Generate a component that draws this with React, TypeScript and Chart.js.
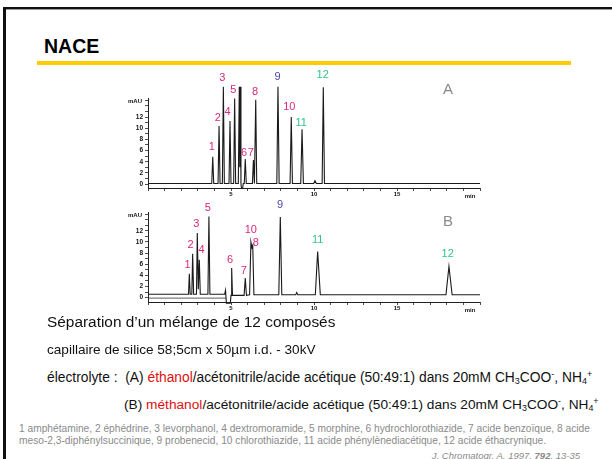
import React, { useEffect, useRef } from "react";
import { Chart, registerables } from "chart.js";

Chart.register(...registerables);

// ---- Data ----
// Electropherogram A (ethanol)
const timeA = [0, 3.84, 3.9, 3.96, 4.22, 4.28, 4.34, 4.48, 4.54, 4.6, 4.88, 4.94, 5.0, 5.16, 5.22, 5.28, 5.44, 5.5, 5.53, 5.56, 5.6, 5.63, 5.7, 5.74, 5.8, 5.86, 5.92, 6.29, 6.35, 6.41, 6.43, 6.49, 6.55, 7.76, 7.83, 7.9, 8.56, 8.63, 8.7, 9.2, 9.28, 9.36, 9.98, 10.06, 10.14, 10.49, 10.56, 10.63, 20];
const signalA = [0.1, 0.1, 4.9, 0.1, 0.1, 10.4, 0.1, 0.1, 17.4, 0.1, 0.1, 11.3, 0.1, 0.1, 15.3, 0.1, 0.1, 17.4, 3, 17.4, 0.1, -0.7, -0.7, 0.1, 0.1, 4.5, 0.1, 0.1, 4.3, 0.1, 0.1, 15.1, 0.1, 0.1, 17.4, 0.1, 0.1, 12.0, 0.1, 0.1, 9.8, 0.1, 0.1, 0.6, 0.1, 0.1, 17.3, 0.1, 0.1];
const peakLabelsA = ["1", "2", "3", "4", "5", "6", "7", "8", "9", "10", "11", "12"];
const peakLabelTimeA = [3.84, 4.2, 4.48, 4.8, 5.14, 5.78, 6.2, 6.45, 7.81, 8.51, 9.23, 10.52];
const peakLabelSignalA = [6.6, 11.8, 18.9, 12.9, 16.8, 5.5, 5.5, 16.5, 19.1, 13.8, 10.9, 19.6];

// Electropherogram B (methanol)
const timeB = [0, 2.44, 2.49, 2.54, 2.64, 2.69, 2.75, 2.92, 2.97, 3.03, 3.09, 3.15, 3.61, 3.67, 3.73, 4.62, 4.67, 4.72, 4.96, 5.0, 5.04, 5.09, 5.79, 5.86, 5.93, 6.12, 6.2, 6.26, 6.31, 6.38, 7.88, 7.97, 8.06, 8.9, 8.96, 9.02, 10.08, 10.22, 10.38, 17.95, 18.13, 18.32, 20];
const signalB = [0.6, 0.6, 4.3, 0.6, 0.6, 7.9, 0.6, 0.6, 11.6, 1.5, 6.8, 0.6, 0.6, 14.6, 0.6, 0.6, 1.3, -1.0, -1.0, 0.4, 5.3, 0.4, 0.4, 3.5, 0.4, 0.5, 10.0, 9.0, 9.4, 0.5, 0.5, 14.5, 0.5, 0.5, 0.9, 0.5, 0.5, 8.3, 0.5, 0.5, 5.6, 0.5, 0.5];
const offsetTimeB = [0, 4.7];
const offsetSignalB = [-0.1, -0.1];
const peakLabelsB = ["1", "2", "3", "4", "5", "6", "7", "10", "8", "9", "11", "12"];
const peakLabelTimeB = [2.39, 2.57, 2.91, 3.23, 3.6, 4.94, 5.77, 6.19, 6.49, 7.95, 10.22, 18.05];
const peakLabelSignalB = [5.8, 9.4, 13.3, 8.5, 16.2, 6.7, 4.8, 12.1, 9.8, 16.6, 10.3, 7.9];

// Axis tick labels
const yTickLabels = [0, 2, 4, 6, 8, 10, 12];
const xTickLabels = [5, 10, 15];

// ---- Styles ----
const MAGENTA = "#d8287c";
const BLUE = "#4848a8";
const GREEN = "#2fc486";
const FONT = '"Liberation Sans", Arial, sans-serif';
const colorOf = (l: string) => (l === "9" ? BLUE : l === "11" || l === "12" ? GREEN : MAGENTA);

type PanelProps = {
  left: number;
  top: number;
  width: number;
  height: number;
  padTop: number;
  xHeight: number;
  yMin: number;
  yMax: number;
  series: { t: number[]; v: number[]; color: string; w: number }[];
  labels: string[];
  lt: number[];
  lv: number[];
};

function Panel(p: PanelProps) {
  const ref = useRef<HTMLCanvasElement | null>(null);
  useEffect(() => {
    if (!ref.current) return;
    const annot = {
      id: "annot",
      afterDatasetsDraw(chart: any) {
        const { ctx, scales, chartArea } = chart;
        const x = scales.x;
        const y = scales.y;
        ctx.save();
        ctx.font = `11px ${FONT}`;
        ctx.textAlign = "center";
        ctx.textBaseline = "middle";
        p.labels.forEach((l, i) => {
          ctx.fillStyle = colorOf(l);
          ctx.fillText(l, x.getPixelForValue(p.lt[i]), y.getPixelForValue(p.lv[i]));
        });
        ctx.fillStyle = "#111";
        ctx.font = `bold 6px ${FONT}`;
        ctx.textAlign = "right";
        ctx.fillText("mAU", chartArea.left - 6, chartArea.top + 3);
        ctx.textAlign = "center";
        ctx.fillText("min", x.getPixelForValue(19.4), chartArea.bottom + 8);
        ctx.restore();
      },
    };
    const chart = new Chart(ref.current, {
      type: "line",
      data: {
        datasets: p.series.map((s) => ({
          data: s.t.map((t, i) => ({ x: t, y: s.v[i] })),
          borderColor: s.color,
          borderWidth: s.w,
          pointRadius: 0,
          tension: 0,
          fill: false,
          clip: false as any,
        })),
      },
      options: {
        responsive: false,
        animation: false,
        devicePixelRatio: 1,
        layout: { padding: { left: 0, right: 20, top: p.padTop, bottom: 0 } },
        plugins: { legend: { display: false }, tooltip: { enabled: false } },
        scales: {
          x: {
            type: "linear",
            min: 0,
            max: 20,
            afterFit: (s: any) => {
              s.height = p.xHeight;
            },
            ticks: {
              stepSize: 1,
              autoSkip: false,
              maxRotation: 0,
              padding: 0,
              color: "#111",
              font: { size: 6, weight: "bold", family: FONT },
              callback: (v: any) => (xTickLabels.includes(Number(v)) ? String(v) : ""),
            },
            grid: { display: true, drawOnChartArea: false, drawTicks: true, tickLength: 3, color: "#222", lineWidth: 0.8 },
            border: { display: true, color: "#222", width: 1 },
          },
          y: {
            type: "linear",
            min: p.yMin,
            max: p.yMax,
            afterFit: (s: any) => {
              s.width = 48;
            },
            ticks: {
              stepSize: 1,
              includeBounds: false,
              autoSkip: false,
              padding: 2,
              color: "#111",
              font: { size: 6.5, weight: "bold", family: FONT },
              callback: (v: any) => (yTickLabels.includes(Number(v)) ? String(v) : ""),
            },
            grid: { display: true, drawOnChartArea: false, drawTicks: true, tickLength: 3, color: "#222", lineWidth: 0.8 },
            border: { display: true, color: "#222", width: 1 },
          },
        },
      },
      plugins: [annot],
    } as any);
    return () => chart.destroy();
  }, []);
  return (
    <canvas
      ref={ref}
      width={p.width}
      height={p.height}
      style={{ position: "absolute", left: p.left, top: p.top, width: p.width, height: p.height, display: "block" }}
    />
  );
}

const txt = (left: number, centerY: number, size: number, extra: React.CSSProperties = {}): React.CSSProperties => ({
  position: "absolute",
  left,
  top: centerY - size * 0.6,
  fontSize: size,
  lineHeight: 1.2,
  whiteSpace: "nowrap",
  fontFamily: FONT,
  color: "#111",
  ...extra,
});

const sub: React.CSSProperties = { fontSize: "0.65em", verticalAlign: "-0.25em", lineHeight: 0 };
const sup: React.CSSProperties = { fontSize: "0.65em", verticalAlign: "0.55em", lineHeight: 0 };

export default function App() {
  return (
    <div
      style={{
        position: "absolute",
        left: 0,
        top: 0,
        width: 612,
        height: 459,
        overflow: "hidden",
        background: "#fff",
        fontFamily: FONT,
      }}
    >
      <div
        style={{
          position: "absolute",
          left: 3,
          top: 7,
          width: 700,
          height: 600,
          borderTop: "2.5px solid #111",
          borderLeft: "3px solid #111",
          boxShadow: "inset 0 1px 0 #999",
        }}
      />
      <div style={txt(44, 47, 19.5, { fontWeight: "bold", color: "#000" })}>NACE</div>
      <div style={{ position: "absolute", left: 37, top: 61, width: 534, height: 3.5, background: "#ffcc00" }} />

      <Panel
        left={100}
        top={60}
        width={400}
        height={140}
        padTop={38}
        xHeight={12}
        yMin={-0.7}
        yMax={15.4}
        series={[{ t: timeA, v: signalA, color: "#1a1a1a", w: 1.1 }]}
        labels={peakLabelsA}
        lt={peakLabelTimeA}
        lv={peakLabelSignalA}
      />
      <Panel
        left={100}
        top={200}
        width={400}
        height={115}
        padTop={12}
        xHeight={13}
        yMin={-0.8}
        yMax={15.4}
        series={[
          { t: offsetTimeB, v: offsetSignalB, color: "#333", w: 0.8 },
          { t: timeB, v: signalB, color: "#1a1a1a", w: 1.1 },
        ]}
        labels={peakLabelsB}
        lt={peakLabelTimeB}
        lv={peakLabelSignalB}
      />
      <div style={txt(443, 89, 15, { color: "#8a8a8a" })}>A</div>
      <div style={txt(443, 221, 15, { color: "#8a8a8a" })}>B</div>

      <div style={txt(47, 322, 15.4)}>Séparation d’un mélange de 12 composés</div>
      <div style={txt(47, 350, 13.6)}>capillaire de silice 58;5cm x 50µm i.d. - 30kV</div>
      <div style={txt(47, 378, 13.8)}>
        électrolyte :&nbsp; (A) <span style={{ color: "#e01010" }}>éthanol</span>/acétonitrile/acide acétique (50:49:1) dans 20mM CH
        <span style={sub}>3</span>COO<span style={sup}>-</span>, NH<span style={sub}>4</span>
        <span style={sup}>+</span>
      </div>
      <div style={txt(124, 405, 13.7)}>
        (B) <span style={{ color: "#e01010" }}>méthanol</span>/acétonitrile/acide acétique (50:49:1) dans 20mM CH
        <span style={sub}>3</span>COO<span style={sup}>-</span>, NH<span style={sub}>4</span>
        <span style={sup}>+</span>
      </div>
      <div style={txt(19, 429, 10.2, { color: "#8a8a8a" })}>
        1 amphétamine, 2 éphédrine, 3 levorphanol, 4 dextromoramide, 5 morphine, 6 hydrochlorothiazide, 7 acide benzoïque, 8 acide
      </div>
      <div style={txt(19, 441, 10.2, { color: "#8a8a8a" })}>
        meso-2,3-diphénylsuccinique, 9 probenecid, 10 chlorothiazide, 11 acide phénylènediacétique, 12 acide éthacrynique.
      </div>
      <div style={{ ...txt(0, 456, 9.5, { color: "#8a8a8a", fontStyle: "italic" }), left: undefined, right: 32 }}>
        J. Chromatogr. A. 1997, <b>792</b>, 13-35
      </div>
    </div>
  );
}
